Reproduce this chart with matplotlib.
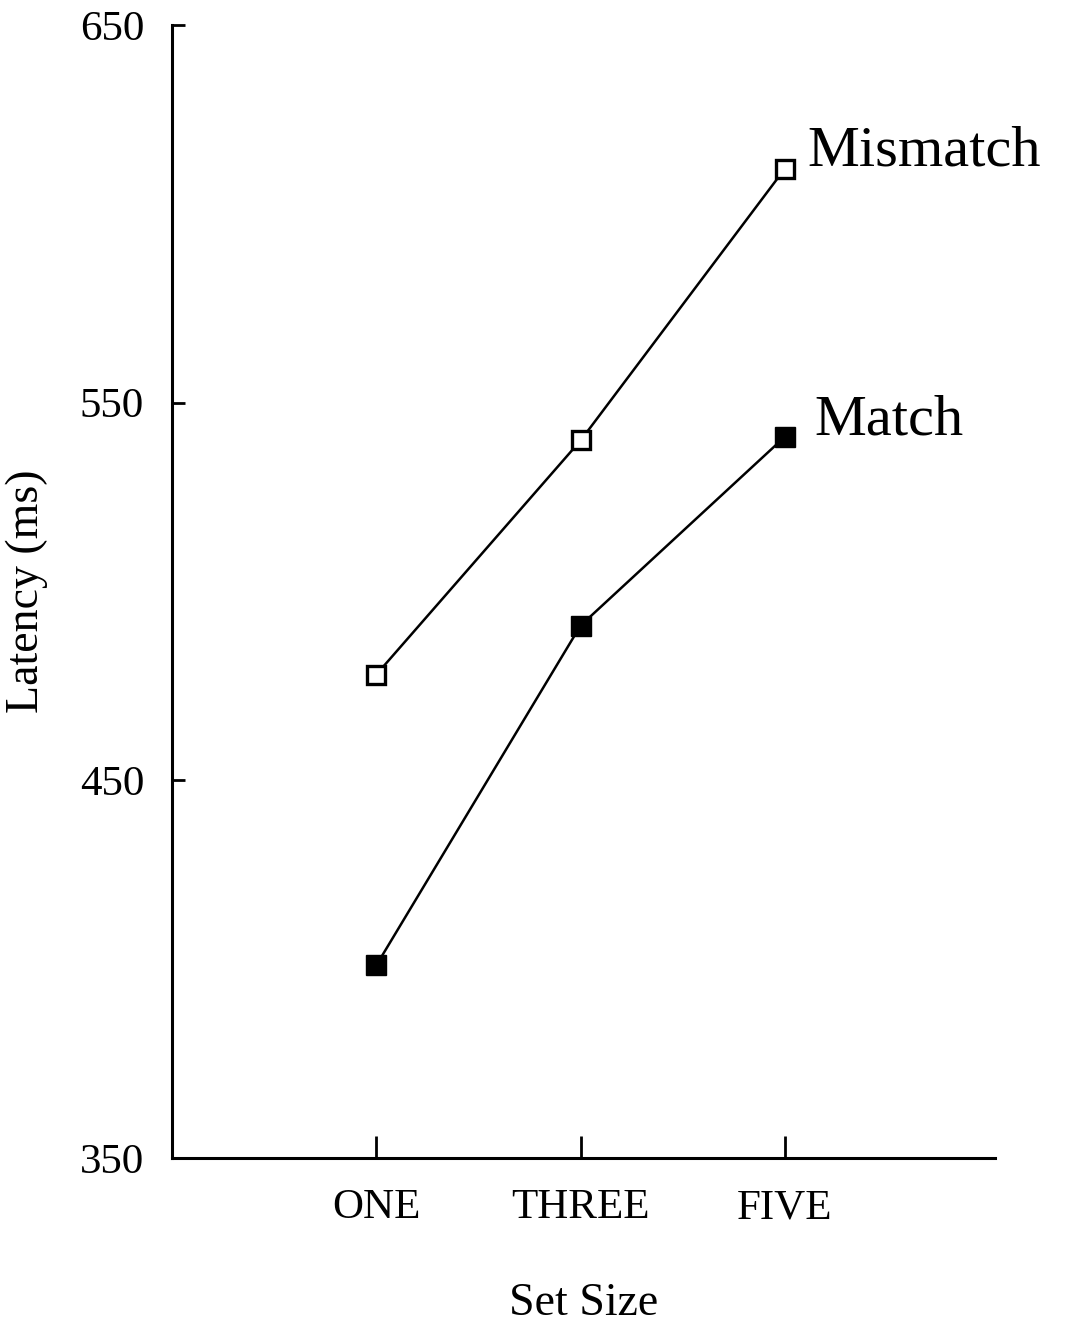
import numpy as np
import matplotlib.pyplot as plt

# Werte
set_sizes = ['ONE', 'THREE', 'FIVE']
mismatch = [478, 540, 612]
match = [401, 491, 541]
y_ticks = [350, 450, 550, 650]

plt.rcParams['font.family'] = ['Liberation Serif', 'DejaVu Serif']

x = np.arange(1, len(set_sizes) + 1)

fig = plt.figure(figsize=(10.68, 13.35), dpi=100)
ax = fig.add_axes([0.161, 0.1326, 0.771, 0.8486])

ax.plot(x, mismatch, color='black', lw=1.8, marker='s', markersize=13,
        markerfacecolor='white', markeredgecolor='black', markeredgewidth=2.4)
ax.plot(x, match, color='black', lw=1.8, marker='s', markersize=15,
        markerfacecolor='black', markeredgecolor='black')

# Beschriftung der Linien
ax.annotate('Mismatch', xy=(x[-1], mismatch[-1]), xytext=(16, 12),
            textcoords='offset points', ha='left', va='center', fontsize=42)
ax.annotate('Match', xy=(x[-1], match[-1]), xytext=(21, 12),
            textcoords='offset points', ha='left', va='center', fontsize=42)

ax.set_xlim(0, 4.03)
ax.set_ylim(350, 650)
ax.set_xticks(x)
ax.set_xticklabels(set_sizes, fontsize=31)
ax.set_yticks(y_ticks)
ax.tick_params(axis='y', direction='in', length=9, width=2, pad=20, labelsize=31)
ax.tick_params(axis='x', direction='in', length=16, width=2, pad=22)

for side in ['top', 'right']:
    ax.spines[side].set_visible(False)
for side in ['left', 'bottom']:
    ax.spines[side].set_linewidth(2.2)

ax.set_ylabel('Latency (ms)', fontsize=33)
ax.yaxis.set_label_coords(-0.15, 0.5)
ax.set_xlabel('Set Size', fontsize=33)
ax.xaxis.set_label_coords(0.5, -0.11)

plt.savefig('out.png', dpi=100)
